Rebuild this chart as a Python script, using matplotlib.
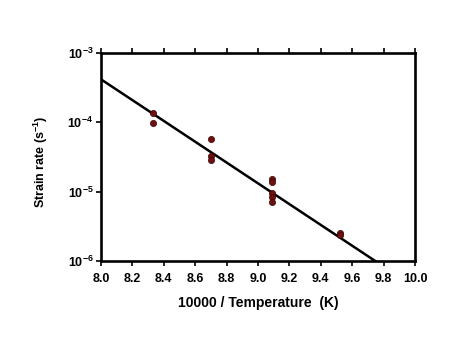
import matplotlib
matplotlib.use("Agg")
import matplotlib.pyplot as plt
import numpy as np
from matplotlib.ticker import FixedLocator, NullLocator

plt.rcParams['font.family'] = ['Liberation Sans', 'DejaVu Sans']
plt.rcParams['mathtext.fontset'] = 'custom'
plt.rcParams['mathtext.rm'] = 'Liberation Sans'
plt.rcParams['mathtext.bf'] = 'Liberation Sans:bold'

# data
inv_temp = [8.33, 8.33, 8.70, 8.70, 8.70, 9.09, 9.09, 9.09, 9.09, 9.09, 9.52, 9.52]
strain_rate = [1.35e-4, 9.8e-5, 5.8e-5, 3.3e-5, 2.9e-5, 1.5e-5, 1.39e-5, 9.7e-6, 8.5e-6, 7.2e-6, 2.55e-6, 2.4e-6]
fit_x = [8.0, 10.0]
fit_log_intercept = np.log10(4.17e-4)
fit_slope = -1.5
x_ticks = [8.0, 8.2, 8.4, 8.6, 8.8, 9.0, 9.2, 9.4, 9.6, 9.8, 10.0]
y_ticks = [1e-6, 1e-5, 1e-4, 1e-3]
y_tick_labels = [r'$\mathbf{10^{-6}}$', r'$\mathbf{10^{-5}}$', r'$\mathbf{10^{-4}}$', r'$\mathbf{10^{-3}}$']

fig = plt.figure(figsize=(4.68, 3.45), dpi=100)
ax = fig.add_axes([101/468, 1 - 261/345, (415-101)/468, (261-53)/345])

fx = np.array(fit_x)
fy = 10 ** (fit_log_intercept + fit_slope * (fx - fit_x[0]))
ax.plot(fx, fy, color='black', lw=1.8, zorder=2)
ax.scatter(inv_temp, strain_rate, s=20, color='#6e1010', edgecolors='#3a0505', linewidths=0.5, zorder=3)

ax.set_yscale('log')
ax.set_xlim(8.0, 10.0)
ax.set_ylim(1e-6, 1e-3)
ax.xaxis.set_major_locator(FixedLocator(x_ticks))
ax.set_xticklabels([f'{v:.1f}' for v in x_ticks])
ax.yaxis.set_major_locator(FixedLocator(y_ticks))
ax.yaxis.set_minor_locator(NullLocator())
ax.set_yticklabels(y_tick_labels)

for s in ax.spines.values():
    s.set_linewidth(1.9)
ax.tick_params(axis='both', direction='out', length=3.5, width=1.2, labelsize=9)
ax.tick_params(axis='x', top=True, pad=5)
ax.tick_params(axis='y', pad=2)
for lbl in ax.get_xticklabels() + ax.get_yticklabels():
    lbl.set_fontweight('bold')

ax.set_xlabel('10000 / Temperature  (K)', fontsize=10, fontweight='bold')
ax.set_ylabel(r'Strain rate (s$^{\mathbf{-1}}$)', fontsize=9, fontweight='bold')
ax.xaxis.set_label_coords(0.5, -0.166)
ax.yaxis.set_label_coords(-0.161, 0.478)

fig.savefig('out.png', dpi=100)
